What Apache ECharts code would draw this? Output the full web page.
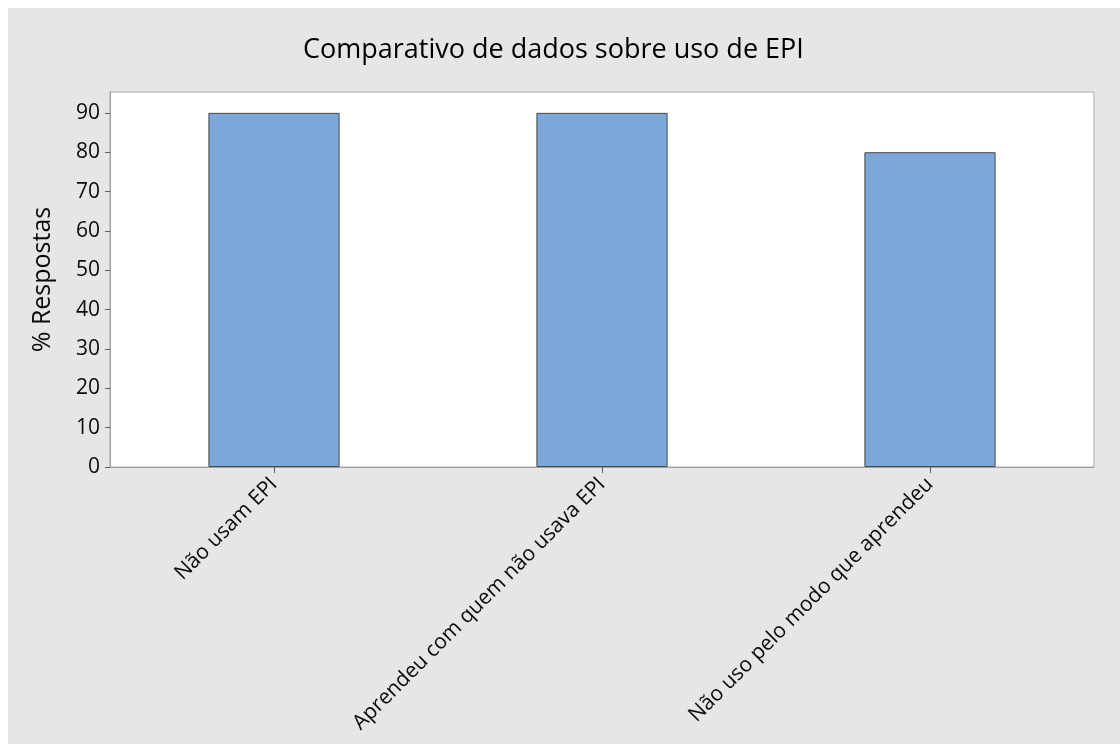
<!DOCTYPE html>
<html>
<head>
<meta charset="utf-8">
<script src="https://cdn.jsdelivr.net/npm/echarts@6/dist/echarts.min.js"></script>
<style>
html,body{margin:0;padding:0;background:#ffffff;}
#chart{position:absolute;left:8px;top:8px;width:1112px;height:736px;}
</style>
</head>
<body>
<div id="chart"></div>
<script>
const chartTitle = "Comparativo de dados sobre uso de EPI";
const yAxisName = "% Respostas";
const categories = ["Não usam EPI", "Aprendeu com quem não usava EPI", "Não uso pelo modo que aprendeu"];
const values = [90, 90, 80];
const yTicks = [0, 10, 20, 30, 40, 50, 60, 70, 80, 90];

const chart = echarts.init(document.getElementById('chart'));
const font = '"Open Sans", "Noto Sans", sans-serif';
chart.setOption({
  backgroundColor: '#e6e6e6',
  animation: false,
  title: {
    text: chartTitle,
    left: 290,
    top: 24,
    textStyle: { fontFamily: font, fontSize: 27, fontWeight: 'normal', color: '#000000' }
  },
  grid: {
    left: 102, top: 84, width: 984, height: 375,
    show: true, backgroundColor: '#ffffff', borderColor: '#a8a8a8', borderWidth: 1,
    containLabel: false
  },
  xAxis: {
    type: 'category',
    data: categories,
    axisLine: { show: true, lineStyle: { color: '#a0a0a0', width: 1 } },
    axisTick: { show: true, alignWithLabel: true, interval: 0, length: 6, lineStyle: { color: '#606060' } },
    axisLabel: { interval: 0, rotate: 45, margin: 14, fontFamily: font, fontSize: 21, color: '#0a0a0a' }
  },
  yAxis: {
    type: 'value',
    min: 0, max: 95.3,
    name: yAxisName,
    nameLocation: 'middle',
    nameGap: 55,
    nameTextStyle: { fontFamily: font, fontSize: 25, color: '#0a0a0a' },
    splitLine: { show: false },
    axisLine: { show: true, lineStyle: { color: '#a0a0a0', width: 1 } },
    axisTick: { show: true, length: 5, customValues: yTicks, lineStyle: { color: '#606060' } },
    axisLabel: { customValues: yTicks, margin: 10, fontFamily: font, fontSize: 21, color: '#0a0a0a' }
  },
  series: [{
    type: 'bar',
    data: values,
    barWidth: '40%',
    itemStyle: { color: '#7ba7d9', borderColor: '#4a4a4a', borderWidth: 1 }
  }]
});
</script>
</body>
</html>
